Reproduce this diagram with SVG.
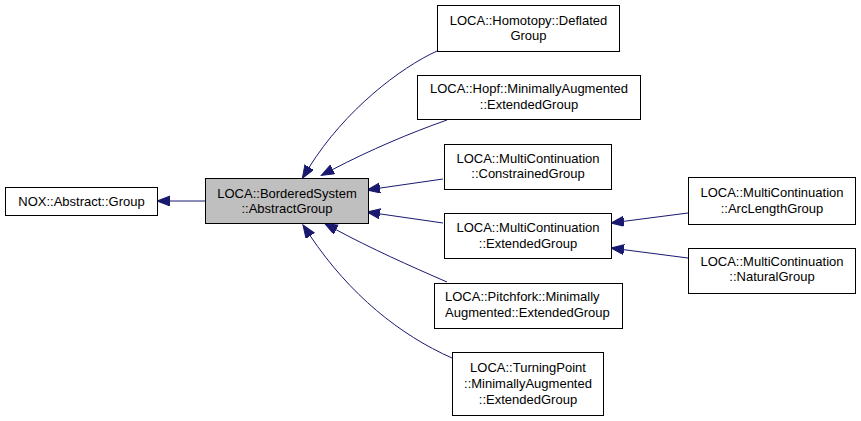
<svg xmlns="http://www.w3.org/2000/svg" width="861" height="421" viewBox="0 0 861 421">
<defs>
<marker id="ah" markerUnits="userSpaceOnUse" markerWidth="14" markerHeight="11" refX="0" refY="5" orient="auto">
<path d="M0,0 L13,5 L0,10 z" fill="#191970" stroke="#191970" stroke-width="1"/>
</marker>
<style>
.box{fill:#ffffff;stroke:#000000;stroke-width:1}
.cur{fill:#bfbfbf;stroke:#000000;stroke-width:1}
text{font-family:"Liberation Sans",Arial,Helvetica,sans-serif;font-size:13px;fill:#000000;text-anchor:middle}
.l{text-anchor:start}
.e{fill:none;stroke:#191970;stroke-width:1;marker-end:url(#ah)}
</style>
</defs>
<rect width="861" height="421" fill="#ffffff"/>
<g id="edges">
<path class="e" d="M205,201 L170,201"/>
<path class="e" d="M437,51 C400,68 345,110 309.2,167.2"/>
<path class="e" d="M447,120 C410,133 370,150 332.8,169.4"/>
<path class="e" d="M443,179 L379.9,188.1"/>
<path class="e" d="M443,223 L379.9,213.9"/>
<path class="e" d="M447,282 C410,266 370,248 336.1,229.7"/>
<path class="e" d="M452,358 C400,335 350,295 310.2,235.8"/>
<path class="e" d="M688,213 L623.9,221.3"/>
<path class="e" d="M688,258 L623.9,249.7"/>
</g>
<g id="nox">
<rect class="box" x="5.5" y="187.5" width="152" height="28"/>
<text x="81.5" y="206">NOX::Abstract::Group</text>
</g>
<g id="abstractgroup">
<rect class="cur" x="205.5" y="178.5" width="163" height="45"/>
<text x="287" y="197.5">LOCA::BorderedSystem</text>
<text x="287" y="212.5">::AbstractGroup</text>
</g>
<g id="homotopy">
<rect class="box" x="437.5" y="5.5" width="182" height="46"/>
<text x="528.5" y="24.5">LOCA::Homotopy::Deflated</text>
<text x="528.5" y="39.5">Group</text>
</g>
<g id="hopf">
<rect class="box" x="417.5" y="75.5" width="223" height="44"/>
<text x="529" y="93">LOCA::Hopf::MinimallyAugmented</text>
<text x="529" y="108.5">::ExtendedGroup</text>
</g>
<g id="constrained">
<rect class="box" x="444.5" y="144.5" width="167" height="45"/>
<text x="528" y="162.5">LOCA::MultiContinuation</text>
<text x="528" y="178">::ConstrainedGroup</text>
</g>
<g id="extended">
<rect class="box" x="444.5" y="213.5" width="167" height="45"/>
<text x="528" y="231.5">LOCA::MultiContinuation</text>
<text x="528" y="248">::ExtendedGroup</text>
</g>
<g id="pitchfork">
<rect class="box" x="434.5" y="283.5" width="188" height="45"/>
<text class="l" x="445" y="301">LOCA::Pitchfork::Minimally</text>
<text class="l" x="445" y="317">Augmented::ExtendedGroup</text>
</g>
<g id="turningpoint">
<rect class="box" x="452.5" y="352.5" width="151" height="63"/>
<text x="528" y="371.5">LOCA::TurningPoint</text>
<text x="528" y="388">::MinimallyAugmented</text>
<text x="528" y="404">::ExtendedGroup</text>
</g>
<g id="arclength">
<rect class="box" x="688.5" y="177.5" width="167" height="47"/>
<text x="772" y="196.5">LOCA::MultiContinuation</text>
<text x="772" y="212.5">::ArcLengthGroup</text>
</g>
<g id="natural">
<rect class="box" x="688.5" y="248.5" width="167" height="45"/>
<text x="772" y="265.5">LOCA::MultiContinuation</text>
<text x="772" y="281">::NaturalGroup</text>
</g>
</svg>
